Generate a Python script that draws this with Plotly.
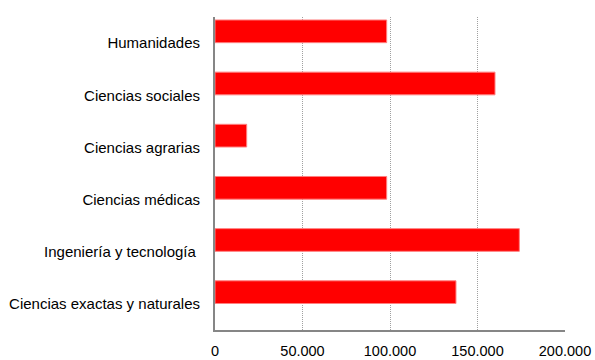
import plotly.graph_objects as go

categories = [
    "Ciencias exactas y naturales",
    "Ingeniería y tecnología ",
    "Ciencias médicas",
    "Ciencias agrarias",
    "Ciencias sociales",
    "Humanidades",
]
values = [137700, 173900, 98100, 18100, 160000, 98100]
tick_vals = [0, 50000, 100000, 150000, 200000]
tick_text = ["0", "50.000", "100.000", "150.000", "200.000"]

fig = go.Figure()
fig.add_trace(go.Bar(
    x=values,
    y=categories,
    orientation="h",
    width=0.435,
    offset=0.008,
    marker=dict(color="#ff0000", line=dict(color="#ff8080", width=1)),
    hoverinfo="x+y",
))

fig.update_layout(
    width=595,
    height=360,
    margin=dict(l=215, r=30, t=17, b=30),
    paper_bgcolor="white",
    plot_bgcolor="white",
    showlegend=False,
    font=dict(family="Liberation Sans, Arial, sans-serif", size=15, color="#000000"),
    xaxis=dict(
        range=[0, 200000],
        tickvals=tick_vals,
        ticktext=tick_text,
        showgrid=True,
        gridcolor="#a0a0a0",
        griddash="1px,1px",
        gridwidth=1,
        showline=True,
        linecolor="#868686",
        linewidth=2,
        zeroline=False,
        ticks="",
        ticklabelstandoff=7,
        tickfont=dict(size=14.5),
        automargin=False,
        fixedrange=True,
    ),
    yaxis=dict(
        type="category",
        categoryorder="array",
        categoryarray=categories,
        range=[-0.5, 5.5],
        showgrid=False,
        showline=True,
        linecolor="#868686",
        linewidth=2,
        zeroline=False,
        ticks="",
        ticklabelstandoff=10,
        tickfont=dict(size=15),
        automargin=False,
        fixedrange=True,
    ),
)

fig.write_html("out.html")
